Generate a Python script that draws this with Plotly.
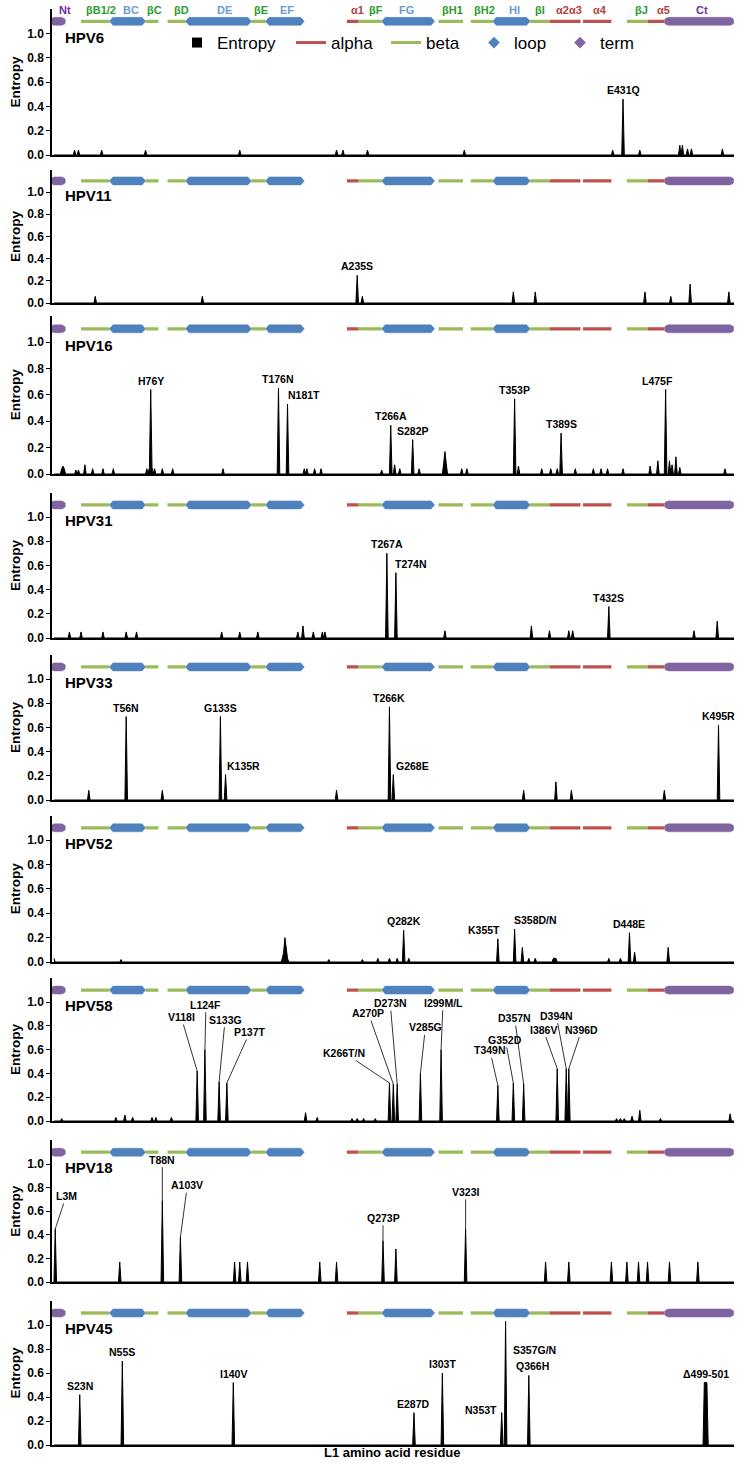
import numpy as np
import plotly.graph_objects as go

# ---------------- data ----------------
N_POS = 528  # alignment columns
grid = np.arange(N_POS)

panel_names = ["HPV6", "HPV11", "HPV16", "HPV31", "HPV33", "HPV52", "HPV58", "HPV18", "HPV45"]

# secondary structure of L1 (alignment positions)
alpha_start = [227, 384, 410, 460]
alpha_end = [236, 408, 432, 473]
beta_start = [21, 71, 88, 153, 236, 298, 323, 369, 444]
beta_end = [43, 81, 102, 164, 254, 317, 340, 384, 460]
loop_start = [43, 102, 164, 254, 340]
loop_end = [71, 153, 194, 295, 369]
term_start = [-3, 473]
term_end = [9, 527]

struct_names = ["Nt", "βB1/2", "BC", "βC", "βD", "DE", "βE", "EF", "α1", "βF", "FG",
                "βH1", "βH2", "HI", "βI", "α2α3", "α4", "βJ", "α5", "Ct"]
struct_label_pos = [8.5, 36.4, 59.7, 78.3, 99.2, 131.8, 160.5, 180.6, 234.9, 249.6, 272.9,
                    308.5, 333.3, 356.6, 376.7, 399.2, 423.3, 455.0, 472.1, 502.3]
struct_kind = ["term", "beta", "loop", "beta", "beta", "loop", "beta", "loop", "alpha", "beta",
               "loop", "beta", "beta", "loop", "beta", "alpha", "alpha", "beta", "alpha", "term"]

# per-residue Shannon entropy peaks (alignment position, entropy)
hpv6_pos = [16, 19, 37, 71, 144, 219, 224, 243, 318, 433, 441, 454, 485, 487, 491, 494, 518]
hpv6_ent = [.04, .04, .04, .04, .04, .04, .04, .04, .04, .04, .46, .04, .08, .08, .05, .05, .05]
hpv6_lab = ["E431Q"]
hpv6_lab_pos = [441]

hpv11_pos = [32, 115, 235, 239, 356, 373, 458, 478, 493, 523]
hpv11_ent = [.06, .06, .25, .06, .10, .10, .10, .06, .17, .10]
hpv11_lab = ["A235S"]
hpv11_lab_pos = [235]

hpv16_pos = [6, 7, 8, 17, 19, 24, 30, 38, 46, 72, 74, 75, 76, 78, 84, 92, 131, 174, 181, 194, 196,
             202, 207, 254, 261, 264, 268, 278, 283, 302, 303, 304, 316, 320, 357, 360, 378, 385,
             390, 393, 404, 418, 424, 429, 441, 462, 468, 474, 477, 479, 482, 485, 520]
hpv16_ent = [.04, .06, .04, .03, .03, .07, .04, .04, .04, .04, .05, .64, .05, .04, .04, .04, .04,
             .65, .53, .04, .04, .04, .04, .03, .37, .07, .04, .26, .04, .08, .17, .08, .04, .04,
             .57, .06, .04, .04, .04, .31, .04, .04, .04, .04, .04, .06, .10, .64, .10, .07, .13,
             .05, .04]
hpv16_lab = ["H76Y", "T176N", "N181T", "T266A", "S282P", "T353P", "T389S", "L475F"]
hpv16_lab_pos = [75, 174, 181, 261, 278, 357, 393, 474]

hpv31_pos = [12, 21, 38, 56, 64, 130, 144, 158, 189, 193, 201, 208, 210, 258, 265, 303, 370, 384,
             399, 402, 430, 496, 514]
hpv31_ent = [.05, .05, .05, .05, .05, .05, .05, .05, .05, .10, .05, .05, .05, .70, .54, .06, .10,
             .06, .06, .06, .26, .06, .14]
hpv31_lab = ["T267A", "T274N", "T432S"]
hpv31_lab_pos = [258, 265, 430]

hpv33_pos = [27, 56, 84, 129, 133, 219, 260, 263, 364, 389, 401, 473, 515]
hpv33_ent = [.08, .69, .08, .69, .21, .08, .77, .21, .08, .15, .08, .08, .62]
hpv33_lab = ["T56N", "G133S", "K135R", "T266K", "G268E", "K495R"]
hpv33_lab_pos = [56, 129, 133, 260, 263, 515]

hpv52_pos = [0, 52, 177, 178, 179, 180, 181, 213, 239, 251, 260, 266, 271, 275, 344, 357, 363,
             368, 373, 387, 388, 389, 430, 439, 446, 450, 476]
hpv52_ent = [.03, .02, .03, .08, .20, .08, .03, .02, .02, .03, .03, .03, .26, .03, .19, .27, .12,
             .03, .03, .03, .03, .03, .03, .03, .24, .08, .12]
hpv52_lab = ["Q282K", "K355T", "S358D/N", "D448E"]
hpv52_lab_pos = [271, 344, 357, 446]

hpv58_pos = [6, 48, 55, 61, 76, 79, 91, 111, 117, 128, 134, 195, 204, 231, 235, 240, 249, 260, 263,
             266, 284, 300, 344, 356, 364, 390, 397, 399, 436, 439, 442, 448, 454, 470, 524]
hpv58_ent = [.02, .03, .05, .03, .03, .03, .03, .42, .60, .33, .32, .07, .03, .02, .02, .02, .02,
             .32, .31, .31, .40, .60, .30, .32, .31, .44, .44, .44, .02, .02, .02, .04, .09, .02,
             .06]
hpv58_lab = ["V118I", "L124F", "S133G", "P137T", "K266T/N", "A270P", "D273N", "V285G", "I299M/L",
             "T349N", "G352D", "D357N", "I386V", "D394N", "N396D"]
hpv58_lab_pos = [111, 117, 128, 134, 260, 263, 266, 284, 300, 344, 356, 364, 390, 397, 399]

hpv18_pos = [1, 51, 84, 98, 140, 144, 150, 206, 219, 255, 265, 319, 381, 399, 432, 444, 453, 460,
             477, 499]
hpv18_ent = [.45, .17, .69, .38, .17, .17, .17, .17, .17, .35, .28, .45, .17, .17, .17, .17, .17,
             .17, .17, .17]
hpv18_lab = ["L3M", "T88N", "A103V", "Q273P", "V323I"]
hpv18_lab_pos = [1, 84, 98, 255, 319]

hpv45_pos = [20, 53, 139, 279, 301, 347, 350, 368, 504, 505, 506]
hpv45_ent = [.42, .70, .52, .27, .60, .27, 1.03, .58, .52, .52, .52]
hpv45_lab = ["S23N", "N55S", "I140V", "E287D", "I303T", "N353T", "S357G/N", "Q366H", "Δ499-501"]
hpv45_lab_pos = [20, 53, 139, 279, 301, 347, 350, 368, 505]

panel_pos = [hpv6_pos, hpv11_pos, hpv16_pos, hpv31_pos, hpv33_pos, hpv52_pos, hpv58_pos, hpv18_pos, hpv45_pos]
panel_ent = [hpv6_ent, hpv11_ent, hpv16_ent, hpv31_ent, hpv33_ent, hpv52_ent, hpv58_ent, hpv18_ent, hpv45_ent]
panel_lab = [hpv6_lab, hpv11_lab, hpv16_lab, hpv31_lab, hpv33_lab, hpv52_lab, hpv58_lab, hpv18_lab, hpv45_lab]
panel_lab_pos = [hpv6_lab_pos, hpv11_lab_pos, hpv16_lab_pos, hpv31_lab_pos, hpv33_lab_pos,
                 hpv52_lab_pos, hpv58_lab_pos, hpv18_lab_pos, hpv45_lab_pos]

# ---------------- layout / style ----------------
W, H = 746, 1476
ML, MR = 52, 12
PLOT_W = W - ML - MR
XR = [-1.5, 527]
YTOP = 1.2
TRACK_Y = 1.1
# page geometry of each panel: (page y of 0.0, pixels per entropy unit)
panel_geom = [(155, 121.5), (303, 111), (474, 132), (638, 121), (800, 121),
              (962, 122), (1121, 119), (1282, 118), (1445, 120)]

FONT = "Arial, Liberation Sans, sans-serif"
C_ALPHA, C_BETA, C_LOOP, C_TERM = "#C0504D", "#9BBB59", "#4F81BD", "#8064A2"
LAB_COL = {"term": "#7030A0", "beta": "#2E9B2E", "loop": "#6C9BD2", "alpha": "#B0413E"}

# label placement tweaks: (xanchor, xshift px, yanchor, yshift px)
lab_style = {"N181T": ("left", -2, "bottom", 1), "L475F": ("center", -8, "bottom", 1),
             "T274N": ("left", -3, "bottom", 1), "K135R": ("left", -1, "bottom", 1),
             "G268E": ("left", 1, "bottom", 1), "K355T": ("right", 4, "bottom", 1),
             "S358D/N": ("left", -3, "bottom", 1), "S357G/N": ("left", 5, "middle", -29),
             "N353T": ("right", -3, "middle", 3), "Q366H": ("center", 4, "bottom", 1)}
# labels with leader lines: offset of label centre from the peak tip (px)
lab_leader = {"V118I": (-16, -54), "L124F": (1, -45), "S133G": (6, -62), "P137T": (23, -51),
              "K266T/N": (-45, -30), "A270P": (-25, -71), "D273N": (-7, -81), "V285G": (5, -46),
              "I299M/L": (2, -47), "T349N": (-8, -35), "G352D": (-8, -43), "D357N": (-9, -66),
              "I386V": (-14, -39), "D394N": (-10, -53), "N396D": (13, -39),
              "L3M": (11, -33), "T88N": (0, -41), "A103V": (7, -52), "Q273P": (0, -23),
              "V323I": (0, -37)}

px_per_x = PLOT_W / (XR[1] - XR[0])


def paper_x(page_x):
    return (page_x - ML) / PLOT_W


def paper_y(page_y):
    return (H - page_y) / H


fig = go.Figure()
annotations = []


def ax_names(k):
    s = "" if k == 1 else str(k)
    return "x" + s, "y" + s


for k in range(1, 10):
    xa, ya = ax_names(k)
    y0, unit = panel_geom[k - 1]
    ytop_px = y0 - YTOP * unit
    dom = [paper_y(y0), paper_y(ytop_px)]
    fig.update_layout(**{
        ("xaxis" if k == 1 else f"xaxis{k}"): dict(
            domain=[0, 1], anchor=ya, range=XR, showline=True, linecolor="black", linewidth=1.5,
            showticklabels=False, ticks="", showgrid=False, zeroline=False, fixedrange=True),
        ("yaxis" if k == 1 else f"yaxis{k}"): dict(
            domain=dom, anchor=xa, range=[0, YTOP], showline=True, linecolor="black", linewidth=1.5,
            tickvals=[0, 0.2, 0.4, 0.6, 0.8, 1.0], tickformat=".1f", ticks="outside", ticklen=4,
            tickwidth=1.2, tickcolor="black", showgrid=False, zeroline=False,
            tickfont=dict(family=FONT, size=12, color="black", weight="bold"),
            title=dict(text="<b>Entropy</b>", font=dict(family=FONT, size=13.5, color="black"),
                       standoff=3),
            automargin=False, fixedrange=True),
    })

    hy = 4.0 / unit          # half height of loop / term glyphs (data units)
    tip = 3.5 / px_per_x      # loop tip length
    for starts, ends, col in ((beta_start, beta_end, C_BETA), (alpha_start, alpha_end, C_ALPHA)):
        xs, ys = [], []
        for a, b in zip(starts, ends):
            xs += [a, b, None]
            ys += [TRACK_Y, TRACK_Y, None]
        fig.add_trace(go.Scatter(x=xs, y=ys, mode="lines", line=dict(color=col, width=3.3),
                                 xaxis=xa, yaxis=ya, showlegend=False, hoverinfo="skip"))
    xs, ys = [], []
    for a, b in zip(loop_start, loop_end):
        xs += [a, a + tip, b - tip, b, b - tip, a + tip, a, None]
        ys += [TRACK_Y, TRACK_Y + hy, TRACK_Y + hy, TRACK_Y, TRACK_Y - hy, TRACK_Y - hy, TRACK_Y, None]
    fig.add_trace(go.Scatter(x=xs, y=ys, mode="lines", fill="toself", fillcolor=C_LOOP,
                             line=dict(color=C_LOOP, width=0.5), xaxis=xa, yaxis=ya,
                             showlegend=False, hoverinfo="skip"))
    rx = hy * unit / px_per_x
    th = np.linspace(-np.pi / 2, np.pi / 2, 9)
    xs, ys = [], []
    for a, b in zip(term_start, term_end):
        right_x = list(b - rx + rx * np.cos(th))
        right_y = list(TRACK_Y + hy * np.sin(th))
        left_x = list(a + rx - rx * np.cos(th))[::-1]
        left_y = list(TRACK_Y + hy * np.sin(th))[::-1]
        xs += right_x + left_x + [right_x[0], None]
        ys += right_y + left_y + [right_y[0], None]
    fig.add_trace(go.Scatter(x=xs, y=ys, mode="lines", fill="toself", fillcolor=C_TERM,
                             line=dict(color=C_TERM, width=0.5), xaxis=xa, yaxis=ya,
                             showlegend=False, hoverinfo="skip"))

    # entropy profile
    series = np.zeros(N_POS)
    for p, e in zip(panel_pos[k - 1], panel_ent[k - 1]):
        series[p] = e
    fig.add_trace(go.Scatter(x=grid, y=series, mode="lines", fill="tozeroy", fillcolor="black",
                             line=dict(color="black", width=1), xaxis=xa, yaxis=ya,
                             showlegend=False, name="Entropy"))

    # mutation labels
    for lab, p in zip(panel_lab[k - 1], panel_lab_pos[k - 1]):
        if lab in lab_leader:
            dx, dy = lab_leader[lab]
            annotations.append(dict(x=p, y=series[p], xref=xa, yref=ya, text=f"<b>{lab}</b>",
                                    showarrow=True, arrowhead=0, arrowwidth=0.8, arrowcolor="black",
                                    ax=dx, ay=dy, standoff=0,
                                    font=dict(family=FONT, size=10.5, color="black")))
        else:
            xan, xsh, yan, ysh = lab_style.get(lab, ("center", 0, "bottom", 1))
            annotations.append(dict(x=p, y=series[p], xref=xa, yref=ya, text=f"<b>{lab}</b>",
                                    showarrow=False, xanchor=xan, yanchor=yan, xshift=xsh,
                                    yshift=ysh, font=dict(family=FONT, size=10.5, color="black")))
    annotations.append(dict(x=0.016, y=0.97, xref=f"{xa} domain", yref=ya, xanchor="left",
                            yanchor="middle", text=f"<b>{panel_names[k - 1]}</b>", showarrow=False,
                            font=dict(family=FONT, size=15, color="black")))

for name, p, kind in zip(struct_names, struct_label_pos, struct_kind):
    annotations.append(dict(x=p, y=1.19, xref="x", yref="y", text=f"<b>{name}</b>", showarrow=False,
                            xanchor="center", yanchor="middle",
                            font=dict(family=FONT, size=11, color=LAB_COL[kind])))

annotations.append(dict(x=paper_x(392), y=paper_y(1462), xref="paper", yref="paper",
                        text="<b>L1 amino acid residue</b>", showarrow=False,
                        font=dict(family=FONT, size=13, color="black")))

# legend entries, each in its own legend box (page x where its text starts)
legend_items = [("Entropy", 217, dict(mode="markers", marker=dict(symbol="square", size=10, color="black"))),
                ("alpha", 331, dict(mode="lines", line=dict(color=C_ALPHA, width=3))),
                ("beta", 426, dict(mode="lines", line=dict(color=C_BETA, width=3))),
                ("loop", 514, dict(mode="markers", marker=dict(symbol="diamond", size=9, color=C_LOOP))),
                ("term", 600, dict(mode="markers", marker=dict(symbol="diamond", size=9, color=C_TERM)))]
legend_layout = {}
for i, (name, tx, kw) in enumerate(legend_items):
    lname = "legend" if i == 0 else f"legend{i + 1}"
    fig.add_trace(go.Scatter(x=[None], y=[None], name=name, xaxis="x", yaxis="y", showlegend=True,
                             legend=lname, **kw))
    legend_layout[lname] = dict(orientation="h", x=paper_x(tx - 40), xanchor="left",
                                y=paper_y(25), yanchor="top", itemwidth=30,
                                font=dict(family=FONT, size=17, color="black"),
                                bgcolor="rgba(0,0,0,0)")

fig.update_layout(
    width=W, height=H, margin=dict(l=ML, r=MR, t=0, b=0),
    paper_bgcolor="white", plot_bgcolor="white",
    annotations=annotations, showlegend=True, **legend_layout,
)

# remove the default page margin so the figure fills the 746x1476 window exactly
fig.write_html("out.html", config={"displayModeBar": False},
               post_script="document.body.style.margin='0px';")
